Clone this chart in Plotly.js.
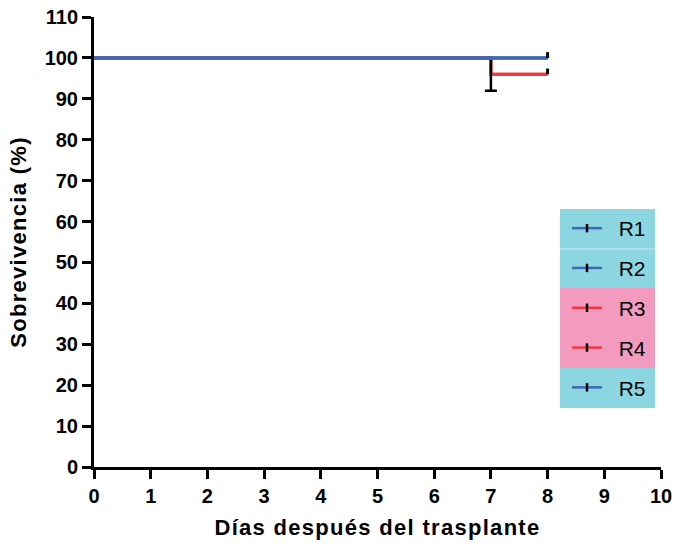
<!DOCTYPE html>
<html>
<head>
<meta charset="utf-8">
<script src="https://cdn.plot.ly/plotly-3.0.1.min.js"></script>
<style>
html,body{margin:0;padding:0;background:#fff;}
#chart{width:678px;height:546px;}
text.xtitle, text.ytitle { letter-spacing: 1.3px; }
</style>
</head>
<body>
<div id="chart"></div>
<script>
// ---- data ----
const seriesNames = ["R1", "R2", "R3", "R4", "R5"];
const seriesGroup = ["blue", "blue", "red", "red", "blue"];
const daysBlue = [0, 8];
const survBlue = [100, 100];
const daysRed = [0, 7, 8];
const survRed = [100, 96, 96];
const errDays = [7];
const errValue = [96];
const errSize = [4];
const censorDays = [8, 8];
const censorSurv = [100, 96];
const censorUp = [1.4, 1.4];
const xTicks = [0,1,2,3,4,5,6,7,8,9,10];
const yTicks = [0,10,20,30,40,50,60,70,80,90,100,110];

// ---- styles ----
const colors = {blue: "#3f67b5", red: "#f2363f"};
const bg = {blue: "#8bd6e1", red: "#f39bbf"};
const FONT = "Liberation Sans, Arial, sans-serif";

const traces = [];
seriesNames.forEach((n, i) => {
  if (seriesGroup[i] !== "red") return;
  traces.push({x: daysRed, y: survRed, mode: "lines", line: {color: colors.red, width: 3, shape: "hv"},
    showlegend: false, hoverinfo: "skip", cliponaxis: false});
});
traces.push({x: errDays, y: errValue, mode: "markers", marker: {size: 0.1, opacity: 0},
  error_y: {type: "data", array: errSize, color: "#000", thickness: 2.5, width: 6},
  showlegend: false, hoverinfo: "skip", cliponaxis: false});
seriesNames.forEach((n, i) => {
  if (seriesGroup[i] !== "blue") return;
  traces.push({x: daysBlue, y: survBlue, mode: "lines", line: {color: colors.blue, width: 3, shape: "hv"},
    showlegend: false, hoverinfo: "skip", cliponaxis: false});
});
traces.push({x: censorDays, y: censorSurv, mode: "markers", marker: {size: 0.1, opacity: 0},
  error_y: {type: "data", symmetric: false, array: censorUp, arrayminus: [0, 0], color: "#000", thickness: 3, width: 0},
  showlegend: false, hoverinfo: "skip", cliponaxis: false});
seriesNames.forEach((n, i) => {
  traces.push({x: [null], y: [null], name: "\u00a0\u00a0" + n, mode: "lines+markers", legendgroup: n, legendrank: i + 1,
    line: {color: colors[seriesGroup[i]], width: 2.5},
    marker: {symbol: "line-ns", size: 6, color: "#000", line: {color: "#000", width: 2.5}},
    hoverinfo: "skip"});
});

const L = 94, R = 17, T = 17, B = 79;
const W = 678, H = 546;
const pw = W - L - R, ph = H - T - B;
function px2x(p) { return (p - L) / pw; }
function px2y(p) { return (H - B - p) / ph; }

const shapes = [
  {type: "rect", xref: "paper", yref: "paper", x0: px2x(560), x1: px2x(655), y0: px2y(288), y1: px2y(209), fillcolor: bg.blue, line: {width: 0}, layer: "below"},
  {type: "rect", xref: "paper", yref: "paper", x0: px2x(560), x1: px2x(655), y0: px2y(368), y1: px2y(288), fillcolor: bg.red, line: {width: 0}, layer: "below"},
  {type: "rect", xref: "paper", yref: "paper", x0: px2x(560), x1: px2x(655), y0: px2y(408), y1: px2y(368), fillcolor: bg.blue, line: {width: 0}, layer: "below"},
  {type: "line", xref: "paper", yref: "paper", x0: px2x(560), x1: px2x(655), y0: px2y(249), y1: px2y(249), line: {color: "#c8ecf1", width: 1}, layer: "below"}
];

const layout = {
  width: W, height: H,
  margin: {l: L, r: R, t: T, b: B},
  paper_bgcolor: "#fff", plot_bgcolor: "#fff",
  font: {family: FONT, color: "#000"},
  showlegend: true,
  legend: {x: px2x(567), y: px2y(208), xanchor: "left", yanchor: "top", bgcolor: "rgba(0,0,0,0)",
    font: {size: 21, color: "#000"}, traceorder: "grouped", tracegroupgap: 9.5},
  xaxis: {range: [0, 10], tickvals: xTicks, ticktext: xTicks.map(String), showgrid: false, zeroline: false,
    showline: true, linecolor: "#000", linewidth: 3, ticks: "outside", ticklen: 9, tickwidth: 3, tickcolor: "#000",
    tickfont: {size: 20, family: FONT, weight: "bold"},
    title: {text: "<b>Días después del trasplante</b>", font: {size: 22}, standoff: 14}},
  yaxis: {range: [0, 110], tickvals: yTicks, ticktext: yTicks.map(String), showgrid: false, zeroline: false,
    showline: true, linecolor: "#000", linewidth: 3, ticks: "outside", ticklen: 9, tickwidth: 3, tickcolor: "#000",
    tickfont: {size: 20, family: FONT, weight: "bold"},
    title: {text: "<b>Sobrevivencia (%)</b>", font: {size: 22}, standoff: 12}},
  shapes: shapes
};

Plotly.newPlot("chart", traces, layout, {displayModeBar: false, staticPlot: true});
</script>
</body>
</html>
